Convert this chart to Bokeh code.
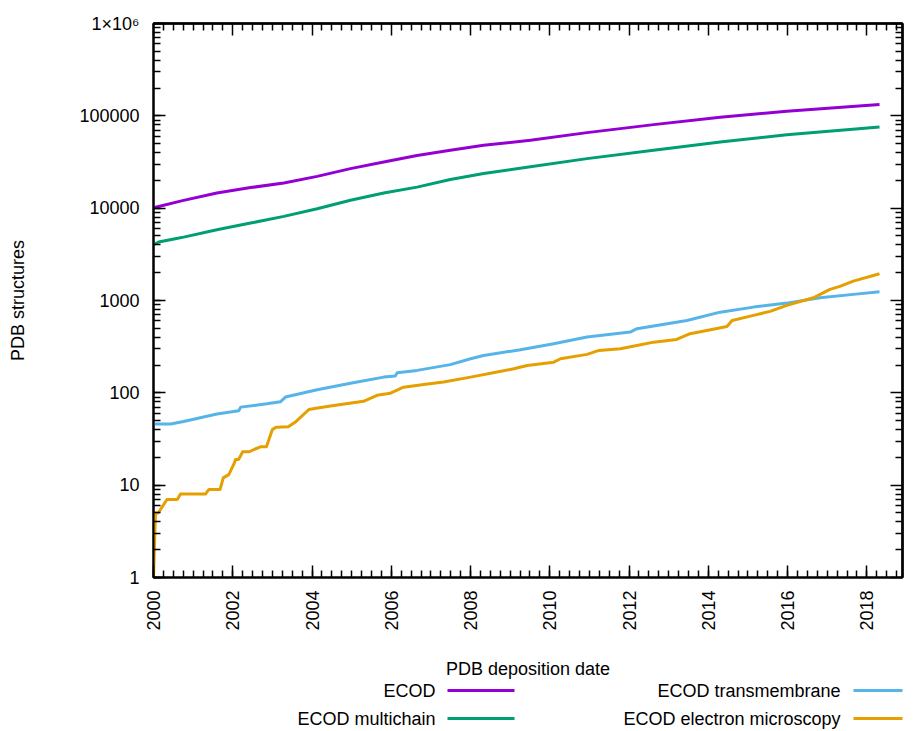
from bokeh.plotting import figure
from bokeh.models import (Range1d, LinearAxis, LogAxis, SingleIntervalTicker, LogTicker,
                          FixedTicker, ColumnDataSource)
from bokeh.layouts import column
from bokeh.core.properties import value
from bokeh.embed import file_html
from bokeh.resources import INLINE
import math

# ---------------- data ----------------
ecod_years = [2000.0, 2000.76, 2001.6, 2002.45, 2003.29, 2004.13, 2004.97, 2005.81, 2006.65,
              2007.49, 2008.33, 2009.51, 2010.94, 2012.62, 2014.30, 2015.98, 2018.32]
ecod_vals = [10120, 12150, 14600, 16700, 18700, 22100, 26800, 31600, 37100,
             42300, 47900, 54300, 65800, 80300, 96400, 112000, 133000]

multi_years = [2000.0, 2000.13, 2000.55, 2000.76, 2001.6, 2002.45, 2003.29, 2004.13, 2004.97,
               2005.81, 2006.65, 2007.49, 2008.33, 2009.51, 2010.94, 2012.62, 2014.30,
               2015.98, 2018.32]
multi_vals = [4030, 4300, 4670, 4860, 5850, 6900, 8150, 9870, 12200,
              14600, 16900, 20400, 23700, 28100, 34400, 42300, 52100, 62500, 75700]

tm_years = [2000.0, 2000.43, 2000.76, 2001.6, 2002.15, 2002.2, 2002.86, 2003.2, 2003.33,
            2004.13, 2004.97, 2005.81, 2006.1, 2006.15, 2006.65, 2007.49, 2008.0, 2008.33,
            2009.26, 2010.1, 2010.94, 2012.03, 2012.2, 2013.46, 2014.30, 2015.14, 2015.98,
            2016.82, 2017.66, 2018.32]
tm_vals = [46, 46, 49, 59, 64, 70, 76, 80, 90,
           108, 127, 148, 152, 165, 175, 202, 234, 254,
           293, 340, 402, 455, 495, 608, 748, 848, 937,
           1070, 1165, 1245]

em_years = [2000.0, 2000.05, 2000.12, 2000.34, 2000.6, 2000.68, 2001.31, 2001.4, 2001.68,
            2001.76, 2001.9, 2002.03, 2002.07, 2002.15, 2002.25, 2002.42, 2002.55, 2002.7,
            2002.85, 2003.0, 2003.1, 2003.4, 2003.6, 2003.92, 2004.1, 2004.55, 2005.3,
            2005.64, 2005.98, 2006.31, 2006.82, 2007.32, 2008.0, 2008.67, 2009.09, 2009.43,
            2010.1, 2010.27, 2010.94, 2011.24, 2011.78, 2012.2, 2012.62, 2013.2, 2013.54,
            2013.96, 2014.47, 2014.6, 2015.14, 2015.56, 2015.98, 2016.65, 2017.07, 2017.32,
            2017.66, 2018.32]
em_vals = [1, 5, 5, 7, 7, 8, 8, 9, 9,
           12, 13, 17, 19, 19, 23, 23, 24.5, 26,
           26, 40, 42.5, 43, 49, 66, 68, 73, 81,
           94, 99, 115, 123, 131, 148, 168, 182, 198,
           215, 234, 261, 288, 300, 326, 354, 379, 437,
           474, 524, 608, 690, 763, 885, 1070, 1318, 1422,
           1623, 1951]

series_names = ["ECOD", "ECOD multichain", "ECOD transmembrane", "ECOD electron microscopy"]
series_colors = ["#9400D3", "#009E73", "#56B4E9", "#E69F00"]

x_tick_values = [2000, 2002, 2004, 2006, 2008, 2010, 2012, 2014, 2016, 2018]
y_tick_values = [1, 10, 100, 1000, 10000, 100000, 1000000]
y_tick_labels = ["1", "10", "100", "1000", "10000", "100000", "1×10⁶"]

x_start, x_end = 2000, 2018.9
y_start, y_end = 1, 1000000

FONT = "Liberation Sans"
FS = "18px"
W = 914
MAIN_H = 681
KEY_H = 50
FRAME_L, FRAME_R = 153, 902

p = figure(width=W, height=MAIN_H, x_axis_type="linear", y_axis_type="log",
           x_range=Range1d(x_start, x_end), y_range=Range1d(y_start, y_end),
           output_backend="svg", toolbar_location=None,
           min_border_left=FRAME_L, min_border_right=W - FRAME_R, min_border_top=23,
           min_border_bottom=MAIN_H - 577)
p.xgrid.visible = False
p.ygrid.visible = False
p.outline_line_color = "black"
p.outline_line_width = 2
p.background_fill_color = "white"
p.border_fill_color = "white"


def style_axis(ax):
    ax.axis_line_color = "black"
    ax.axis_line_width = 2
    ax.major_tick_line_color = "black"
    ax.major_tick_line_width = 1.5
    ax.minor_tick_line_color = "black"
    ax.minor_tick_line_width = 1.5
    ax.major_tick_in = 12
    ax.major_tick_out = 0
    ax.minor_tick_in = 7
    ax.minor_tick_out = 0
    ax.major_label_text_font = FONT
    ax.major_label_text_font_size = FS
    ax.major_label_text_color = "black"
    ax.axis_label_text_font = FONT
    ax.axis_label_text_font_size = FS
    ax.axis_label_text_font_style = "normal"
    ax.axis_label_text_color = "black"


xa = p.xaxis[0]
xa.ticker = SingleIntervalTicker(interval=2, num_minor_ticks=8)
style_axis(xa)
xa.major_label_orientation = math.pi / 2
xa.major_label_standoff = 13
xa.axis_label = "PDB deposition date"
xa.axis_label_standoff = 25

ya = p.yaxis[0]
ya.ticker = LogTicker(num_minor_ticks=10)
style_axis(ya)
ya.major_label_standoff = 14
ya.major_label_overrides = {v: s for v, s in zip(y_tick_values, y_tick_labels)}
ya.axis_label = "PDB structures"
ya.axis_label_standoff = 48

# mirrored tick marks on the top and right borders (no labels: only "minor" ticks used)
x_minor_pos = [x_start + 0.25 * i for i in range(int((x_end - x_start) / 0.25) + 1)
               if (0.25 * i) % 2 != 0]
y_minor_pos = [m * d for d in y_tick_values[:-1] for m in range(2, 10)]

for side, cls, major_pos, minor_pos in [("above", LinearAxis, x_tick_values, x_minor_pos),
                                        ("right", LogAxis, y_tick_values, y_minor_pos)]:
    for pos, length in [(major_pos, 12), (minor_pos, 7)]:
        ax = cls(ticker=FixedTicker(ticks=[], minor_ticks=pos))
        ax.axis_line_color = "black"
        ax.axis_line_width = 2
        ax.minor_tick_line_color = "black"
        ax.minor_tick_line_width = 1.5
        ax.minor_tick_in = length
        ax.minor_tick_out = 0
        ax.major_tick_in = 0
        ax.major_tick_out = 0
        ax.major_label_standoff = 0
        p.add_layout(ax, side)

all_x = [ecod_years, multi_years, tm_years, em_years]
all_y = [ecod_vals, multi_vals, tm_vals, em_vals]
for xs, ys, c in zip(all_x, all_y, series_colors):
    p.line(xs, ys, line_color=c, line_width=3, line_join="round")

# ---------------- gnuplot-style key (separate strip under the plot) ----------------
# The column layout aligns this strip's frame with the main frame, so its x range is
# expressed in page pixels over the frame span; y is page pixels (downward).
k = figure(width=W, height=KEY_H, x_range=Range1d(FRAME_L, FRAME_R),
           y_range=Range1d(MAIN_H + KEY_H, MAIN_H),
           output_backend="svg", toolbar_location=None, x_axis_location=None,
           y_axis_location=None, min_border_left=FRAME_L, min_border_right=W - FRAME_R,
           min_border_top=0, min_border_bottom=0, outline_line_color=None)
k.xgrid.visible = False
k.ygrid.visible = False
k.background_fill_color = "white"
k.border_fill_color = "white"

key_text_right = [435, 435, 840, 840]
key_line_left = [447, 447, 853, 853]
key_line_right = [514, 514, 914, 914]
key_row_y = [690, 718, 690, 718]

ksrc = ColumnDataSource(dict(name=series_names, color=series_colors, tx=key_text_right,
                             x0=key_line_left, x1=key_line_right, y=key_row_y))
k.text(x="tx", y="y", text="name", source=ksrc, text_align="right", text_baseline="middle",
       text_font=value(FONT), text_font_size=FS, text_color="black")
k.segment(x0="x0", y0="y", x1="x1", y1="y", source=ksrc, line_color="color", line_width=3)

layout = column(p, k, spacing=0)
open("out.html", "w").write(file_html(layout, INLINE))
